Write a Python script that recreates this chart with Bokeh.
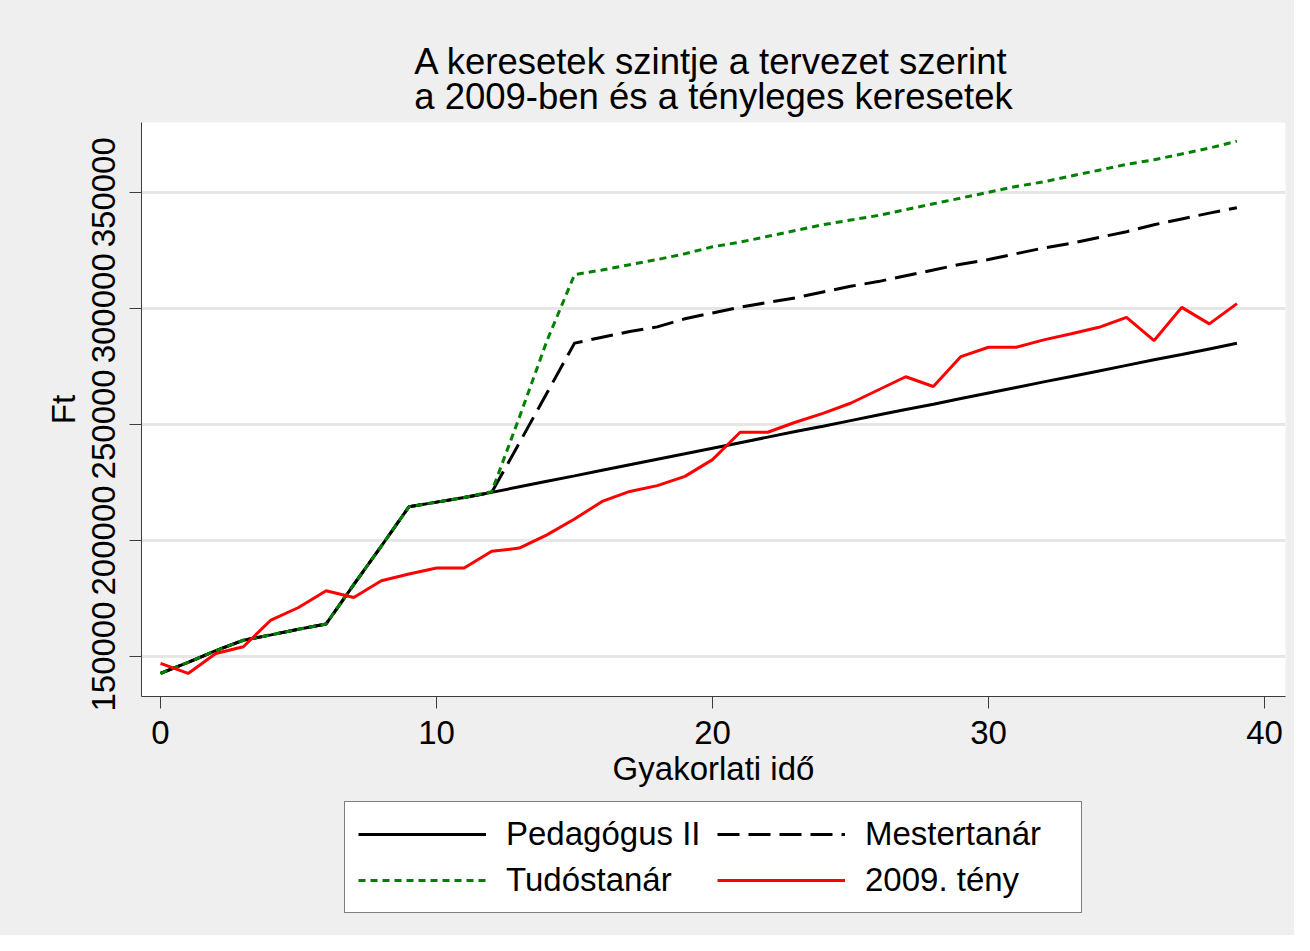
from bokeh.plotting import figure
from bokeh.layouts import column
from bokeh.models import Range1d, FixedTicker, NumeralTickFormatter, Legend, LegendItem, Title, ColumnDataSource
from bokeh.embed import file_html
from bokeh.resources import INLINE

years = list(range(40))

pedagogus = [142700, 147500, 152500, 157000, 159300, 161700, 164000, 181000, 197500, 214500,
             216500, 218500, 220700, 223100, 225500, 227800, 230200, 232600, 235000, 237300,
             239700, 242100, 244500, 246900, 249200, 251600, 254000, 256400, 258700, 261100,
             263500, 265900, 268300, 270600, 273000, 275400, 277800, 280100, 282500, 284900]

mestertanar = [142700, 147500, 152500, 157000, 159300, 161700, 164000, 181000, 197500, 214500,
               216500, 218500, 220700, 242000, 263500, 285000, 287500, 290000, 292000, 295500,
               298000, 300500, 302500, 304500, 307000, 309500, 311500, 314000, 316500, 319000,
               321000, 323500, 326000, 328000, 330500, 333000, 336000, 338500, 341000, 343300]

tudostanar = [142700, 147500, 152500, 157000, 159300, 161700, 164000, 181000, 197500, 214500,
              216500, 218500, 221000, 253000, 286000, 314500, 316500, 318800, 321000, 323500,
              326500, 328500, 331000, 333500, 336000, 338000, 340000, 342500, 345000, 347500,
              350000, 352500, 354500, 357000, 359500, 362000, 364000, 366500, 369000, 372000]

teny2009 = [147000, 142700, 151300, 154200, 165700, 171100, 178300, 175400, 182600, 185500,
            188100, 188100, 195300, 196700, 202400, 209200, 216800, 221100, 223600, 227600,
            234800, 246600, 246600, 250900, 254700, 259100, 264800, 270500, 266300, 279200,
            283200, 283200, 286400, 289000, 291800, 296100, 286100, 300400, 293300, 302000]

series_names = ["Pedagógus II", "Mestertanár", "Tudóstanár", "2009. tény"]
x_ticks = [0, 10, 20, 30, 40]
y_ticks = [150000, 200000, 250000, 300000, 350000]

title_text = "A keresetek szintje a tervezet szerint\na 2009-ben és a tényleges keresetek"
x_label = "Gyakorlati idő"
y_label = "Ft"

FONT = "Liberation Sans"
BG = "#EFEFEF"

STYLES = [dict(line_color="black", line_width=3),
          dict(line_color="black", line_width=3, line_dash="22 9"),
          dict(line_color="#008000", line_width=3, line_dash="7 5"),
          dict(line_color="#FF0000", line_width=3)]

p = figure(width=1294, height=800, output_backend="svg", toolbar_location=None,
           x_range=Range1d(-0.69, 40.76), y_range=Range1d(132760, 380040),
           min_border_left=141, min_border_right=9, min_border_top=122, min_border_bottom=104,
           background_fill_color="white", border_fill_color=BG, title=None)
p.outline_line_color = None

t = Title(text=title_text, align="center", text_font=FONT, text_font_size="36.5px",
          text_font_style="normal", text_color="black", text_line_height=0.85, standoff=11)
p.add_layout(t, "above")

src = ColumnDataSource(dict(x=years, ped=pedagogus, mes=mestertanar, tud=tudostanar, teny=teny2009))
cols = ["ped", "mes", "tud", "teny"]
for c, st in zip(cols, STYLES):
    p.line("x", c, source=src, **st)

# axes
for ax in (p.xaxis[0], p.yaxis[0]):
    ax.axis_line_color = "#3C3C3C"
    ax.major_tick_line_color = "#3C3C3C"
    ax.major_tick_out = 12
    ax.major_tick_in = 0
    ax.minor_tick_line_color = None
    ax.major_label_text_font = FONT
    ax.major_label_text_font_size = "33px"
    ax.major_label_text_color = "black"
    ax.axis_label_text_font = FONT
    ax.axis_label_text_font_size = "33px"
    ax.axis_label_text_font_style = "normal"
    ax.axis_label_text_color = "black"

p.xaxis.ticker = FixedTicker(ticks=x_ticks)
p.yaxis.ticker = FixedTicker(ticks=y_ticks)
p.yaxis.formatter = NumeralTickFormatter(format="0")
p.yaxis.major_label_orientation = "vertical"
p.xaxis.axis_label = x_label
p.yaxis.axis_label = y_label
p.xaxis.major_label_standoff = 12
p.yaxis.major_label_standoff = 14
p.xaxis.axis_label_standoff = 3
p.yaxis.axis_label_standoff = 8

p.xgrid.visible = False
p.ygrid.grid_line_color = "#E6E6E6"
p.ygrid.grid_line_width = 3

# legend panel below the chart (proxy renderers hold no visible points)
p2 = figure(width=1294, height=135, output_backend="svg", toolbar_location=None,
            x_axis_location=None, y_axis_location=None, title=None,
            x_range=Range1d(0, 1), y_range=Range1d(0, 1),
            min_border=0, min_border_left=0, min_border_right=0, min_border_top=0, min_border_bottom=0,
            background_fill_color=BG, border_fill_color=BG)
p2.outline_line_color = None
p2.grid.visible = False
nan_src = ColumnDataSource(dict(x=[float("nan")], y=[float("nan")]))
proxies = [p2.line("x", "y", source=nan_src, **st) for st in STYLES]

legend = Legend(items=[LegendItem(label=n, renderers=[r]) for n, r in zip(series_names, proxies)],
                orientation="horizontal", ncols=2, location=(203, 22),
                label_text_font=FONT, label_text_font_size="33px", label_text_color="black",
                glyph_width=128, glyph_height=38, label_standoff=20, label_width=203,
                spacing=8, padding=13, margin=0,
                border_line_color="black", border_line_width=1,
                background_fill_color="white", background_fill_alpha=1.0)
p2.add_layout(legend, "center")

layout = column(p, p2, spacing=0, styles={"background-color": BG})
open("out.html", "w").write(file_html(layout, INLINE))
